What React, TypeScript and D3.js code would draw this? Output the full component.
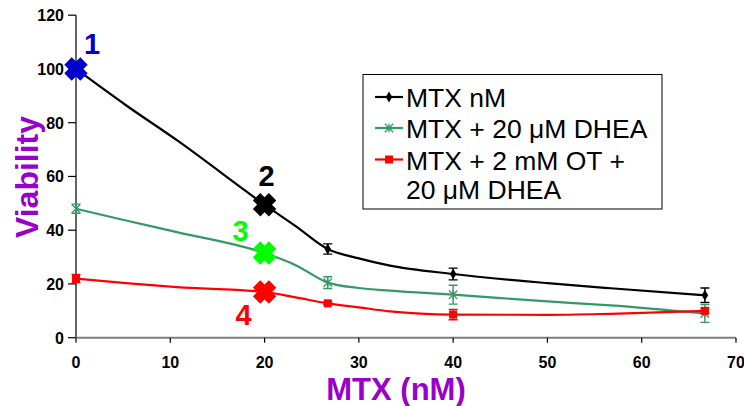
import React, { useEffect, useRef } from 'react';
import * as d3 from 'd3';

// MTX concentrations (nM) where the curves were read
const mtxDoses = [0, 5.3, 10.7, 20, 23.3, 26.7, 30, 33.3, 40, 50, 56.7, 66.7];
const mtxOnly = [100, 86.5, 73.5, 49.5, 41.5, 33, 29.5, 26.8, 23.7, 20.3, 18.4, 15.8];
const mtxDhea = [48, 43.6, 39.3, 31.5, 27, 20.5, 18.5, 17.5, 16, 13.5, 12, 9];
const mtxOtDhea = [22, 20.3, 18.8, 17, 15, 12.8, 11.3, 9.8, 8.6, 8.5, 8.9, 10];

// doses with visible markers / error bars
const measuredDoses = [0, 26.7, 40, 66.7];
const mtxOnlyErr = [0, 1.9, 2.2, 2.7];
const mtxDheaErr = [1.7, 2.2, 3.5, 3.3];
const mtxOtDheaErr = [1.5, 0.5, 1.9, 1];

const seriesNames = ['MTX nM', 'MTX + 20 μM DHEA', 'MTX + 2 mM OT +|20 μM DHEA'];

const xTicks = [0, 10, 20, 30, 40, 50, 60, 70];
const yTicks = [0, 20, 40, 60, 80, 100, 120];

// numbered highlight crosses
const highlightLabels = ['1', '2', '3', '4'];
const highlightDoses = [0, 20, 20, 20];
const highlightValues = [100, 49.5, 31.5, 17];

const FONT = '"Liberation Sans", Arial, sans-serif';

const App = () => {
  const svgRef = useRef<SVGSVGElement>(null);

  useEffect(() => {
    const svg = d3.select(svgRef.current);
    svg.selectAll('*').remove();

    const x = d3.scaleLinear().domain([0, 70]).range([76, 736]);
    const y = d3.scaleLinear().domain([0, 120]).range([337.7, 15.2]);

    const series = [
      { name: seriesNames[0], values: mtxOnly, err: mtxOnlyErr, color: '#000000', marker: 'diamond' },
      { name: seriesNames[1], values: mtxDhea, err: mtxDheaErr, color: '#339966', marker: 'star' },
      { name: seriesNames[2], values: mtxOtDhea, err: mtxOtDheaErr, color: '#ff0000', marker: 'square' },
    ];

    // axes
    const yAxis = svg.append('g');
    yAxis.append('line')
      .attr('x1', x(0)).attr('x2', x(0))
      .attr('y1', y(120)).attr('y2', y(0))
      .attr('stroke', '#000').attr('stroke-width', 1.2);
    yTicks.forEach(t => {
      yAxis.append('line')
        .attr('x1', x(0) - 8).attr('x2', x(0))
        .attr('y1', y(t)).attr('y2', y(t))
        .attr('stroke', '#000').attr('stroke-width', 1.2);
      yAxis.append('text')
        .attr('x', x(0) - 12).attr('y', y(t) + 6)
        .attr('text-anchor', 'end')
        .attr('font-family', FONT).attr('font-weight', 'bold').attr('font-size', 16)
        .text(t);
    });

    const xAxis = svg.append('g');
    xAxis.append('line')
      .attr('x1', x(0)).attr('x2', x(70))
      .attr('y1', y(0)).attr('y2', y(0))
      .attr('stroke', '#7f7f7f').attr('stroke-width', 2);
    xTicks.forEach(t => {
      xAxis.append('line')
        .attr('x1', x(t)).attr('x2', x(t))
        .attr('y1', y(0)).attr('y2', y(0) + 5)
        .attr('stroke', '#000').attr('stroke-width', 1.2);
      xAxis.append('text')
        .attr('x', x(t)).attr('y', 368)
        .attr('text-anchor', 'middle')
        .attr('font-family', FONT).attr('font-weight', 'bold').attr('font-size', 16)
        .text(t);
    });

    svg.append('text')
      .attr('x', 396).attr('y', 400)
      .attr('text-anchor', 'middle')
      .attr('font-family', FONT).attr('font-weight', 'bold').attr('font-size', 31)
      .attr('fill', '#9900cc')
      .text('MTX (nM)');

    svg.append('text')
      .attr('transform', 'translate(38,177) rotate(-90)')
      .attr('text-anchor', 'middle')
      .attr('font-family', FONT).attr('font-weight', 'bold').attr('font-size', 32)
      .attr('fill', '#9900cc')
      .text('Viability');

    const line = d3.line<number>()
      .x((_, i) => x(mtxDoses[i]))
      .y(d => y(d))
      .curve(d3.curveMonotoneX);

    const drawMarker = (g: any, kind: string, cx: number, cy: number, color: string) => {
      if (kind === 'diamond') {
        g.append('path')
          .attr('d', d3.symbol(d3.symbolDiamond, 36)())
          .attr('transform', `translate(${cx},${cy})`)
          .attr('fill', color);
      } else if (kind === 'square') {
        g.append('rect')
          .attr('x', cx - 4).attr('y', cy - 4)
          .attr('width', 8).attr('height', 8)
          .attr('fill', color);
      } else {
        const s = 4.2;
        g.append('path')
          .attr('d', `M${cx - s},${cy - s}L${cx + s},${cy + s}M${cx - s},${cy + s}L${cx + s},${cy - s}M${cx},${cy - s}L${cx},${cy + s}`)
          .attr('stroke', color).attr('stroke-width', 1.3).attr('fill', 'none');
      }
    };

    series.forEach(s => {
      const g = svg.append('g');
      g.append('path')
        .datum(s.values)
        .attr('d', line)
        .attr('fill', 'none')
        .attr('stroke', s.color)
        .attr('stroke-width', 2.2);

      measuredDoses.forEach((dose, i) => {
        const v = s.values[mtxDoses.indexOf(dose)];
        const e = s.err[i];
        const cx = x(dose);
        if (e > 0) {
          g.append('path')
            .attr('d', `M${cx},${y(v - e)}L${cx},${y(v + e)}M${cx - 4.5},${y(v - e)}L${cx + 4.5},${y(v - e)}M${cx - 4.5},${y(v + e)}L${cx + 4.5},${y(v + e)}`)
            .attr('stroke', s.color).attr('stroke-width', 1.4).attr('fill', 'none');
        }
        drawMarker(g, s.marker, cx, y(v), s.color);
      });
    });

    // highlight crosses
    const crossColors = ['#0000cc', '#000000', '#00ff00', '#ff0000'];
    const labelOffsets = [[16, -15], [2, -19], [-24, -12], [-21, 33]];
    const d = 8;
    highlightLabels.forEach((lab, i) => {
      const cx = x(highlightDoses[i]);
      const cy = y(highlightValues[i]);
      svg.append('path')
        .attr('d', `M${cx - d},${cy - d}L${cx + d},${cy + d}M${cx - d},${cy + d}L${cx + d},${cy - d}`)
        .attr('stroke', crossColors[i])
        .attr('stroke-width', 10.5)
        .attr('stroke-linecap', 'butt')
        .attr('fill', 'none');
      svg.append('text')
        .attr('x', cx + labelOffsets[i][0]).attr('y', cy + labelOffsets[i][1])
        .attr('text-anchor', 'middle')
        .attr('font-family', FONT).attr('font-weight', 'bold').attr('font-size', 29)
        .attr('fill', crossColors[i])
        .text(lab);
    });

    // legend
    const legend = svg.append('g');
    legend.append('rect')
      .attr('x', 363).attr('y', 74.5)
      .attr('width', 299).attr('height', 134.5)
      .attr('fill', '#fff').attr('stroke', '#000').attr('stroke-width', 1);
    const rowBaselines = [[107], [138], [169.5, 199]];
    series.forEach((s, i) => {
      const base = rowBaselines[i][0];
      const ly = base - 10;
      legend.append('line')
        .attr('x1', 375).attr('x2', 403)
        .attr('y1', ly).attr('y2', ly)
        .attr('stroke', s.color).attr('stroke-width', 2.2);
      drawMarker(legend, s.marker, 389, ly, s.color);
      s.name.split('|').forEach((part, j) => {
        legend.append('text')
          .attr('x', 406).attr('y', rowBaselines[i][j])
          .attr('font-family', FONT).attr('font-size', 26.5)
          .text(part);
      });
    });
  }, []);

  return (
    <svg
      ref={svgRef}
      width={744}
      height={406}
      style={{ position: 'absolute', left: 0, top: 0, background: '#fff' }}
    ></svg>
  );
};

export default App;
